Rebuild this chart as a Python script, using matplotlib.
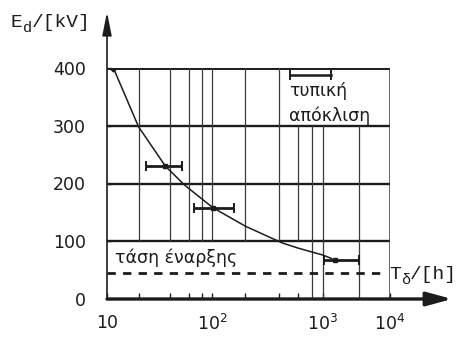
import numpy as np
import matplotlib
matplotlib.use("Agg")
import matplotlib.pyplot as plt
from matplotlib.transforms import offset_copy

# ---- data ----
curve_t = [11.5, 20, 36, 55, 102, 200, 430, 600, 1000, 1350]
curve_E = [400, 298, 230, 197, 158, 126, 97, 88, 76, 70]

err_t = [36, 102, 1500]
err_E = [230, 158, 68]
err_lo = [23.5, 67, 1050]
err_hi = [52, 158, 3500]

onset_E = 45            # "τάση έναρξης" dashed level
onset_t_end = 7900

hgrid = [100, 200, 300, 400]
vgrid_a = [20, 40, 60, 80, 100, 200, 400]   # 100 -> 400
vgrid_b = [600]                              # 100 -> 300
vgrid_c = [800, 1000, 3400]                  # 0 -> 300
vgrid_d = [10000]                            # 0 -> 400

xticks = [10, 100, 1000, 10000]
xticklabels = ["10", "$10^2$", "$10^3$", "$10^4$"]
minor_x = [20, 40, 60, 80, 200, 400, 600]
yticks = [0, 100, 200, 300, 400]

# hand-drawn logarithmic axis (uneven decades)
LOGS = [1, 2, 3, 4]
POS = [1, 2, 3.057, 3.695]
def fwd(x):
    x = np.asarray(x, dtype=float)
    return np.interp(np.log10(np.maximum(x, 1e-9)), LOGS, POS)
def inv(y):
    y = np.asarray(y, dtype=float)
    return 10 ** np.interp(y, POS, LOGS)

ink = "#1c1c1c"
fig = plt.figure(figsize=(4.62, 3.44), dpi=100)
ax = fig.add_axes([107/462, 45/344, 283/462, 231/344])
ax.set_xscale("function", functions=(fwd, inv))
ax.set_xlim(10, 10000)
ax.set_ylim(0, 400)
for s in ax.spines.values():
    s.set_visible(False)

# grid
for h in hgrid:
    ax.plot([10, 10000], [h, h], color=ink, lw=1.7 if h < 400 else 2.1, solid_capstyle="butt")
for v in vgrid_a:
    ax.plot([v, v], [100, 400], color="#3a3a3a", lw=0.9)
for v in vgrid_b:
    ax.plot([v, v], [100, 300], color="#3a3a3a", lw=0.9)
for v in vgrid_c:
    ax.plot([v, v], [0, 300], color="#3a3a3a", lw=0.9)
for v in vgrid_d:
    ax.plot([v, v], [0, 400], color="#3a3a3a", lw=1.1)

# onset dashed line
ax.plot([10, onset_t_end], [onset_E, onset_E], color=ink, lw=2.0, dashes=(3.0, 2.6))

# curve
ax.plot(curve_t, curve_E, color=ink, lw=1.1)
ax.plot(curve_t[:1], curve_E[:1], marker="D", ms=3.5, color=ink)

# error bars
xe = [np.array(err_t) - np.array(err_lo), np.array(err_hi) - np.array(err_t)]
ax.errorbar(err_t, err_E, xerr=xe, fmt="s", ms=2.5, color=ink, ecolor=ink,
            elinewidth=2.0, capsize=3.5, capthick=1.4)

# axes with arrows
ax.annotate("", xy=(1.219, 0), xytext=(0, 0), xycoords="axes fraction",
            annotation_clip=False,
            arrowprops=dict(arrowstyle="-|>,head_length=1.1,head_width=0.3",
                            mutation_scale=14, lw=2.4, color=ink, shrinkA=0, shrinkB=0))
ax.annotate("", xy=(0, 1.242), xytext=(0, 0), xycoords="axes fraction",
            annotation_clip=False,
            arrowprops=dict(arrowstyle="-|>,head_length=1.0,head_width=0.2",
                            mutation_scale=14, lw=1.2, color=ink, shrinkA=0, shrinkB=0))

# ticks
ax.set_xticks(xticks)
ax.set_xticklabels(xticklabels)
ax.set_xticks(minor_x, minor=True)
ax.xaxis.set_minor_formatter(matplotlib.ticker.NullFormatter())
ax.set_yticks(yticks)
ax.set_yticklabels([str(v) for v in yticks])
ax.tick_params(axis="x", which="both", direction="in", length=4, width=1, colors=ink,
               pad=11, labelsize=12.5)
ax.tick_params(axis="y", direction="in", length=3, width=1, colors=ink, pad=15, labelsize=12.5)

# legend key
ax.plot([0.647, 0.792], [0.970, 0.970], transform=ax.transAxes, color=ink, lw=1.8,
        clip_on=False)
ax.plot([0.647, 0.792], [0.970, 0.970], transform=ax.transAxes, ls="none", marker="|",
        ms=7, mew=1.4, color=ink, clip_on=False)
ax.text(0.643, 0.900, "τυπική", transform=ax.transAxes, fontsize=12.5, color=ink,
        va="center", ha="left")
ax.text(0.643, 0.795, "απόκλιση", transform=ax.transAxes, fontsize=12.5, color=ink,
        va="center", ha="left")
ax.text(0.028, 0.177, "τάση έναρξης", transform=ax.transAxes, fontsize=12.5, color=ink,
        va="center", ha="left")

# axis titles in a typewriter face: main letter, lowered subscript, rest
mono = ["Liberation Mono", "DejaVu Sans Mono"]
renderer = fig.canvas.get_renderer()
def typed_label(x_px, y_px, main, sub, rest):
    t1 = fig.text(x_px/462, 1 - y_px/344, main, family=mono, fontsize=14, color=ink,
                  va="baseline", ha="left")
    w1 = t1.get_window_extent(renderer).width
    tr = offset_copy(t1.get_transform(), fig=fig, x=w1, y=-5, units="dots")
    t2 = fig.text(x_px/462, 1 - y_px/344, sub, family=mono, fontsize=11, color=ink,
                  va="baseline", ha="left", transform=tr)
    w2 = t2.get_window_extent(renderer).width
    tr2 = offset_copy(t1.get_transform(), fig=fig, x=w1 + w2, y=0, units="dots")
    fig.text(x_px/462, 1 - y_px/344, rest, family=mono, fontsize=14, color=ink,
             va="baseline", ha="left", transform=tr2)

typed_label(11, 27, "E", "d", "/[kV]")
typed_label(389, 279, "T", "δ", "/[h]")

fig.savefig("out.png", dpi=100)
